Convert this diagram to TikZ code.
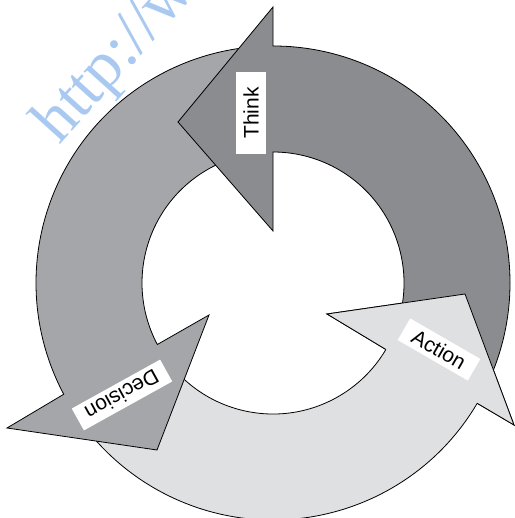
\documentclass[tikz,border=0pt]{standalone}
\usepackage{fontspec}
\setmainfont{Liberation Serif}
\setsansfont{Liberation Sans}
\usepackage{xcolor}
\usepackage{tikz}
\usetikzlibrary{positioning}

\definecolor{thinkgray}{HTML}{8B8C90}
\definecolor{decisiongray}{HTML}{A5A6AA}
\definecolor{actiongray}{HTML}{DFE0E2}
\definecolor{markblue}{HTML}{A9C9F1}

\begin{document}
\begin{tikzpicture}[x=1pt, y=1pt]
    % Define styles
    \tikzstyle{band} = [draw=black, line width=0.8pt, line join=miter]
    \tikzstyle{tag} = [rectangle, fill=white, inner sep=0pt, text centered, font=\sffamily\fontsize{21}{21}\selectfont]

    \useasboundingbox (-273,-235) rectangle (241,283);

    % Watermark
    \node[anchor=base west, rotate=48, text=markblue, font=\rmfamily\fontsize{66}{66}\selectfont] (mark) at (-216,135) {http://www};

    % Arrows
    \filldraw[band, fill=actiongray] (212:131) arc (212:329.5:131) -- (54,-31) -- (192,-11) -- (241,-142) -- (329.5:237) arc (329.5:212:237) -- cycle;
    \filldraw[band, fill=decisiongray] (93:131) arc (93:208:131) -- (-64,-32) -- (-116,-167) -- (-266,-145) -- (208:237) arc (208:93:237) -- cycle;
    \filldraw[band, fill=thinkgray] (-27:131) arc (-27:90:131) -- (0,52) -- (-95,161) -- (0,276) -- (90:237) arc (90:-27:237) -- cycle;
    % Action head on top of the Think tail
    \fill[actiongray] (329.5:131) -- (54,-31) -- (192,-11) -- (241,-142) -- (329.5:237) -- cycle;
    \draw[band] (329.5:131) -- (54,-31) -- (192,-11) -- (241,-142) -- (329.5:237);

    % Labels
    \node[tag, rotate=90, minimum width=82pt, minimum height=30pt] (think) at (-22,170) {Think};
    \node[tag, rotate=209, minimum width=101pt, minimum height=25pt] (decision) at (-151,-112) {Decision};
    \node[tag, rotate=-30, minimum width=81pt, minimum height=25pt] (action) at (166,-66.5) {Action};
\end{tikzpicture}
\end{document}
